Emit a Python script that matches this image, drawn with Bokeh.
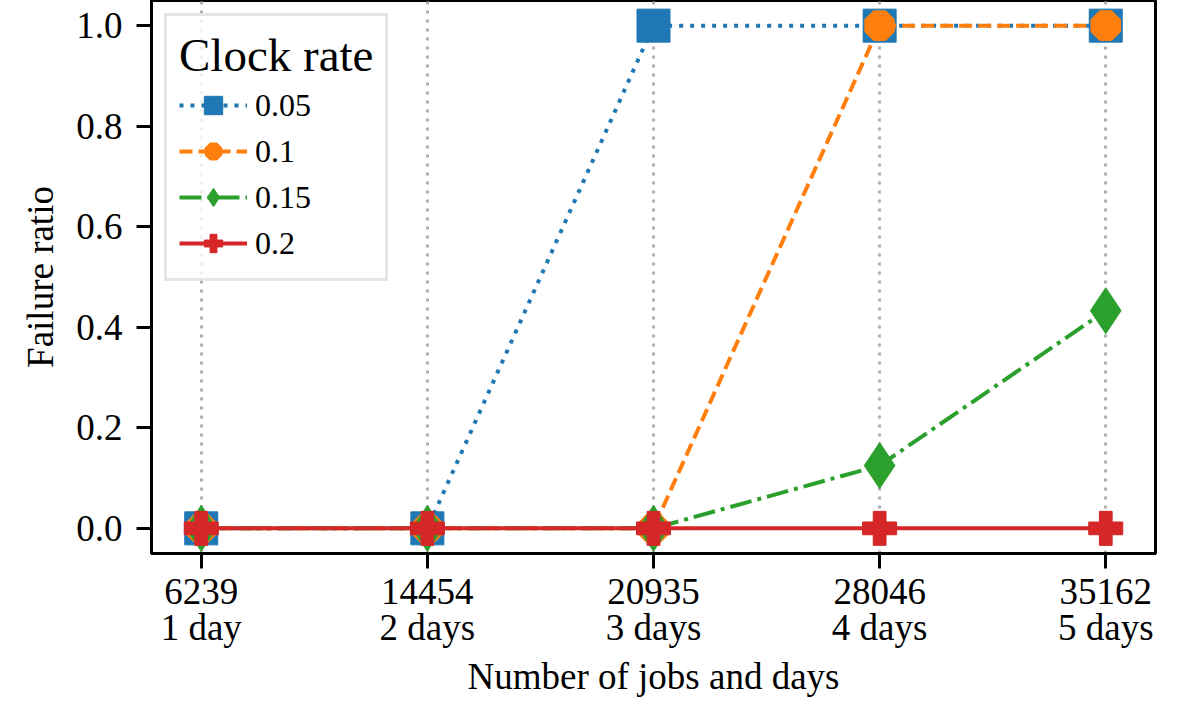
import math
from bokeh.plotting import figure
from bokeh.models import (Range1d, FixedTicker, NumeralTickFormatter, Legend, LegendItem,
                          ColumnDataSource, LinearAxis, Grid)
from bokeh.embed import file_html
from bokeh.resources import INLINE

# ---- data ----
jobs = ["6239", "14454", "20935", "28046", "35162"]
days = ["1 day", "2 days", "3 days", "4 days", "5 days"]
rates = ["0.05", "0.1", "0.15", "0.2"]
fail_005 = [0.0, 0.0, 1.0, 1.0, 1.0]
fail_010 = [0.0, 0.0, 0.0, 1.0, 1.0]
fail_015 = [0.0, 0.0, 0.0, 0.125, 0.433]
fail_020 = [0.0, 0.0, 0.0, 0.0, 0.0]
y_ticks = [0.0, 0.2, 0.4, 0.6, 0.8, 1.0]

FONT = "Liberation Serif"
FS = "37px"
xs = list(range(len(jobs)))

p = figure(width=1172, height=699, output_backend="svg", toolbar_location=None,
           x_range=Range1d(-0.22, len(jobs) - 1 + 0.22), y_range=Range1d(-0.05, 1.05),
           x_axis_location=None,
           min_border_left=151, min_border_right=17, min_border_top=0, min_border_bottom=140)
p.background_fill_color = "white"
p.border_fill_color = "white"
p.outline_line_color = "black"
p.outline_line_width = 3
p.ygrid.visible = False
p.xgrid.visible = False

# x axis 1: job counts with ticks
ax1 = LinearAxis(ticker=FixedTicker(ticks=xs),
                 major_label_overrides={i: j for i, j in enumerate(jobs)})
# x axis 2: days, no ticks, carries the axis label
ax2 = LinearAxis(ticker=FixedTicker(ticks=xs),
                 major_label_overrides={i: d for i, d in enumerate(days)},
                 axis_label="Number of jobs and days")
p.add_layout(ax1, "below")
p.add_layout(ax2, "below")

g = Grid(dimension=0, ticker=FixedTicker(ticks=xs), grid_line_color="#b0b0b0",
         grid_line_width=3, grid_line_dash="3 6")
p.add_layout(g)

p.yaxis.ticker = FixedTicker(ticks=y_ticks)
p.yaxis.formatter = NumeralTickFormatter(format="0.0")
p.yaxis.axis_label = "Failure ratio"
for ax in (ax1, ax2, p.yaxis[0]):
    ax.axis_line_width = 3
    ax.major_tick_line_width = 3
    ax.major_tick_out = 15
    ax.major_tick_in = 0
    ax.minor_tick_line_color = None
    ax.major_label_text_font = FONT
    ax.major_label_text_font_size = FS
    ax.major_label_text_color = "black"
    ax.axis_label_text_font = FONT
    ax.axis_label_text_font_size = FS
    ax.axis_label_text_font_style = "normal"
    ax.axis_label_text_color = "black"
ax1.major_label_standoff = 10
ax2.axis_line_color = None
ax2.major_tick_line_color = None
ax2.major_tick_out = 0
ax2.major_label_standoff = 0
ax2.axis_label_standoff = 5
p.yaxis.major_label_standoff = 14
p.yaxis.axis_label_standoff = 12

colors = ["#1f77b4", "#ff7f0e", "#2ca02c", "#d62728"]
dashes = ["4 7", "13 6", "22 6 4 6", "solid"]
series = [fail_005, fail_010, fail_015, fail_020]

items = []
for k, (lab, ys, c, d) in enumerate(zip(rates, series, colors, dashes)):
    src = ColumnDataSource(dict(x=xs, y=ys))
    ln = p.line("x", "y", source=src, line_color=c, line_width=4, line_dash=d)
    if k == 0:
        mk = p.scatter("x", "y", source=src, marker="square", size=33, fill_color=c, line_color=c)
    elif k == 1:
        mk = p.ngon("x", "y", source=src, radius=16, radius_units="screen", n=8,
                    angle=math.pi / 8, fill_color=c, line_color=c)
    elif k == 2:
        mk = p.scatter("x", "y", source=src, marker="diamond", size=46, fill_color=c, line_color=c)
    else:
        mk = p.scatter("x", "y", source=src, marker="plus", size=34, fill_color=c, line_color=c)
    items.append(LegendItem(label=lab, renderers=[ln, mk]))

legend = Legend(items=items, location="top_left", title="Clock rate")
legend.title_text_font = FONT
legend.title_text_font_size = "47px"
legend.title_text_font_style = "normal"
legend.title_text_color = "black"
legend.title_standoff = 0
legend.label_text_font = FONT
legend.label_text_font_size = "32px"
legend.label_text_color = "black"
legend.glyph_width = 68
legend.glyph_height = 46
legend.label_height = 46
legend.spacing = 0
legend.label_standoff = 8
legend.padding = 12
legend.margin = 13
legend.border_line_color = "#cccccc"
legend.border_line_width = 3
legend.background_fill_alpha = 0.8
p.add_layout(legend)

open("out.html", "w").write(file_html(p, INLINE))
